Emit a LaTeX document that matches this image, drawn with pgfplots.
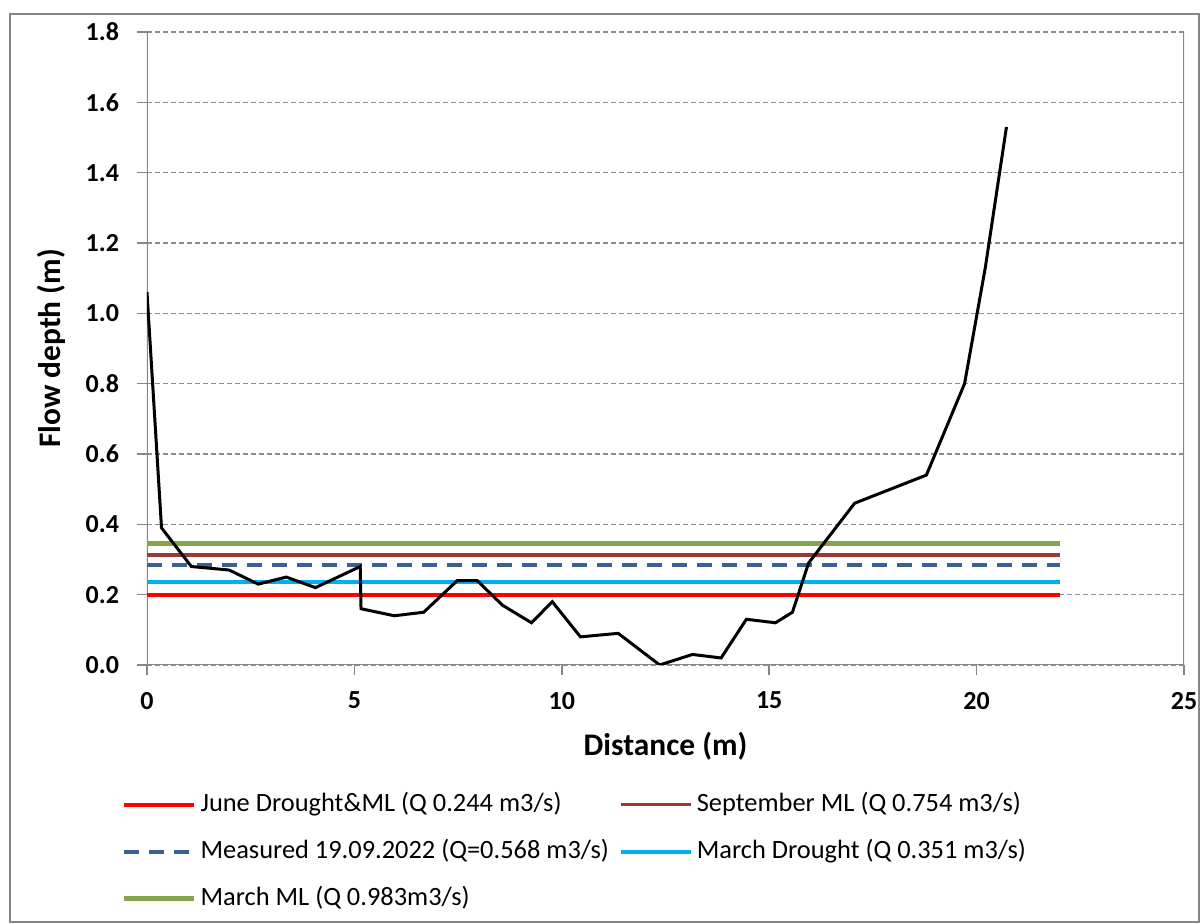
\documentclass[border=0pt]{standalone}
\usepackage{pgfplots}
\pgfplotsset{compat=1.18}
\usepackage{fontspec}
\setmainfont{Carlito}
\definecolor{cred}{HTML}{FF0000}
\definecolor{cbrown}{HTML}{993A38}
\definecolor{cdblue}{HTML}{3A6194}
\definecolor{ccyan}{HTML}{00B0F0}
\definecolor{cgreen}{HTML}{86A44A}
\definecolor{gridgray}{HTML}{8C8C8C}
\definecolor{axgray}{HTML}{868686}
\begin{document}
\begin{tikzpicture}
\useasboundingbox (-73.5pt,-129.5pt) rectangle (526.5pt,332.5pt);
\draw[axgray, line width=0.8pt] (-68.5pt,-128.5pt) rectangle (526pt,325.5pt);
\begin{axis}[
  at={(0,0)}, anchor=south west,
  scale only axis,
  width=518.5pt, height=316.5pt,
  xmin=0, xmax=25, ymin=0, ymax=1.8,
  xtick={0,5,...,25},
  ytick={0,0.2,...,1.8},
  xtick pos=left, ytick pos=left,
  /pgf/number format/assume math mode=true,
  ticklabel style={font=\bfseries\fontsize{13}{15}\selectfont},
  yticklabel style={xshift=-5.5pt},
  xticklabel style={yshift=-5pt},
  y tick label style={/pgf/number format/.cd, fixed, fixed zerofill, precision=1},
  tick align=outside,
  major tick length=5pt,
  tick style={axgray, line width=0.8pt},
  axis line style={draw=none},
  ymajorgrids=true,
  grid style={gridgray, dash pattern=on 2.5pt off 1.5pt, line width=0.6pt},
  xlabel={\bfseries\fontsize{15.7}{18}\selectfont Distance (m)},
  ylabel={\bfseries\fontsize{15.7}{18}\selectfont Flow depth (m)},
  xlabel style={at={(0.5,0)}, anchor=north, yshift=-30pt},
  ylabel style={at={(0,0.5)}, anchor=south, yshift=37pt},
  legend columns=2,
  legend cell align=left,
  legend style={draw=none, fill=none, at={(0,0)}, anchor=north west,
    xshift=-16pt, yshift=-59pt,
    font=\fontsize{13.2}{16}\selectfont,
    nodes={text height=10pt, text depth=3.5pt},
    /tikz/every even column/.append style={column sep=3pt},
    row sep=6pt},
  legend image code/.code={\draw[#1] (0pt,0pt) -- (35pt,0pt);},
]
\draw[axgray, line width=0.8pt] (rel axis cs:0,1) -- (rel axis cs:0,0) -- (rel axis cs:1,0) -- (rel axis cs:1,1);
\addplot[cred, line width=2pt] coordinates {(0,0.198) (22,0.198)};
\addlegendentry{June Drought\&ML (Q 0.244 m3/s)}
\addplot[cbrown, line width=1.6pt] coordinates {(0,0.313) (22,0.313)};
\addlegendentry{September ML (Q 0.754 m3/s)}
\addplot[cdblue, line width=1.8pt, dash pattern=on 7.5pt off 5pt] coordinates {(0,0.284) (22,0.284)};
\addlegendentry{Measured 19.09.2022 (Q=0.568 m3/s)}
\addplot[ccyan, line width=2pt] coordinates {(0,0.236) (22,0.236)};
\addlegendentry{March Drought (Q 0.351 m3/s)}
\addplot[cgreen, line width=2.6pt] coordinates {(0,0.345) (22,0.345)};
\addlegendentry{March ML (Q 0.983m3/s)}
\addplot[black, line width=1.5pt, forget plot] coordinates {
(0,1.06) (0.35,0.39) (1.07,0.28) (1.98,0.27) (2.68,0.23) (3.36,0.25) (4.06,0.22)
(5.14,0.28) (5.16,0.16) (5.96,0.14) (6.67,0.15) (7.48,0.24) (7.96,0.24)
(8.57,0.17) (9.27,0.12) (9.77,0.18) (10.45,0.08) (11.36,0.09) (12.36,0.0)
(13.15,0.03) (13.84,0.02) (14.45,0.13) (15.15,0.12) (15.56,0.15) (15.95,0.29)
(17.06,0.46) (18.79,0.54) (19.71,0.80) (20.21,1.13) (20.72,1.53)};
\end{axis}
\end{tikzpicture}
\end{document}
